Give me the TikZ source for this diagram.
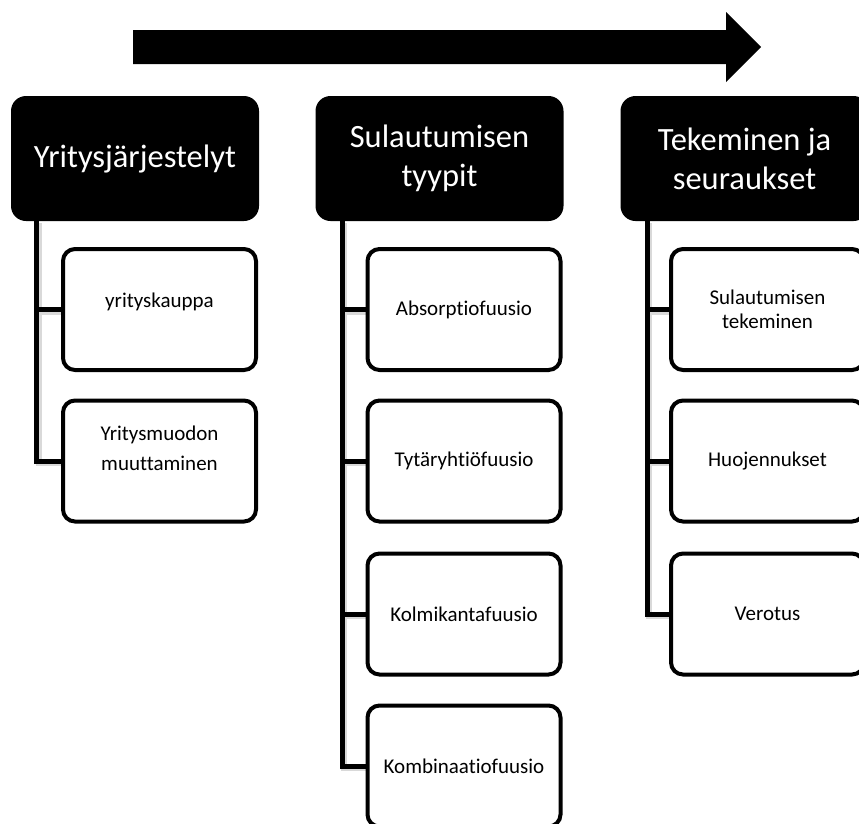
\documentclass[tikz,border=0pt]{standalone}
\usepackage{fontspec}
\setmainfont{Carlito}[Ligatures=NoCommon]
\usetikzlibrary{positioning}

% raise a text without changing its box
\newcommand{\lifted}[2]{\raisebox{#1}[\height][\depth]{#2}}

\begin{document}
\begin{tikzpicture}[x=1pt, y=-1pt,
    header/.style={fill=black, text=white, rounded corners=15pt, inner sep=0pt,
      minimum width=248pt, minimum height=125pt, align=center,
      font=\fontsize{32.5}{39}\selectfont},
    item/.style={draw, line width=4pt, rounded corners=12pt, fill=white, inner sep=0pt,
      minimum width=193pt, minimum height=121pt, align=center,
      font=\fontsize{21}{24}\selectfont},
    wire/.style={line width=5pt},
    wireshadow/.style={line width=6pt, black!15, transform canvas={shift={(2,2)}}}]
    \useasboundingbox (0,0) rectangle (859,823);

    % Draw the big arrow on top
    \fill (133,30) -- (726,30) -- (726,12) -- (761,47) -- (726,82) -- (726,64) -- (133,64) -- cycle;

    % Draw the headers
    \node[header] (yj) at (135,158.5) {Yritysjärjestelyt};
    \node[header] (st) at (439.5,158.5) {Sulautumisen\\tyypit};
    \node[header] (ts) at (744.5,158.5) {Tekeminen ja\\seuraukset};

    % Spine coordinates under the headers
    \coordinate (yjs) at ([xshift=26pt]yj.south west);
    \coordinate (sts) at ([xshift=27pt]st.south west);
    \coordinate (tss) at ([xshift=27pt]ts.south west);

    % Draw the shadows of the wires
    \draw[wireshadow] (yjs) |- (159.5,461);
    \draw[wireshadow] (yjs |- 0,309.5) -- (159.5,309.5);
    \draw[wireshadow] (sts) |- (464,766);
    \draw[wireshadow] (sts |- 0,309.5) -- (464,309.5);
    \draw[wireshadow] (sts |- 0,461) -- (464,461);
    \draw[wireshadow] (sts |- 0,614) -- (464,614);
    \draw[wireshadow] (tss) |- (767.5,614);
    \draw[wireshadow] (tss |- 0,309.5) -- (767.5,309.5);
    \draw[wireshadow] (tss |- 0,461) -- (767.5,461);

    % Draw the boxes of the first column
    \node[item] (yk) at (159.5,309.5) {\lifted{8pt}{yrityskauppa}};
    \node[item] (ym) at (159.5,461)
      {\lifted{10pt}{\begin{tabular}{@{}c@{}}Yritysmuodon\\[6pt]muuttaminen\end{tabular}}};

    % Draw the boxes of the second column
    \node[item] (ab) at (464,309.5) {Absorptiofuusio};
    \node[item] (ty) at (464,461) {Tytäryhtiöfuusio};
    \node[item] (ko) at (464,614) {Kolmikantafuusio};
    \node[item] (kb) at (464,766) {Kombinaatiofuusio};

    % Draw the boxes of the third column
    \node[item] (su) at (767.5,309.5) {Sulautumisen\\tekeminen};
    \node[item] (hu) at (767.5,461) {Huojennukset};
    \node[item] (ve) at (767.5,614) {Verotus};

    % Draw the wires from the headers to the boxes
    \draw[wire] (yjs) |- (ym.west);
    \draw[wire] (yjs |- yk.west) -- (yk.west);

    \draw[wire] (sts) |- (kb.west);
    \draw[wire] (sts |- ab.west) -- (ab.west);
    \draw[wire] (sts |- ty.west) -- (ty.west);
    \draw[wire] (sts |- ko.west) -- (ko.west);

    \draw[wire] (tss) |- (ve.west);
    \draw[wire] (tss |- su.west) -- (su.west);
    \draw[wire] (tss |- hu.west) -- (hu.west);
\end{tikzpicture}
\end{document}
